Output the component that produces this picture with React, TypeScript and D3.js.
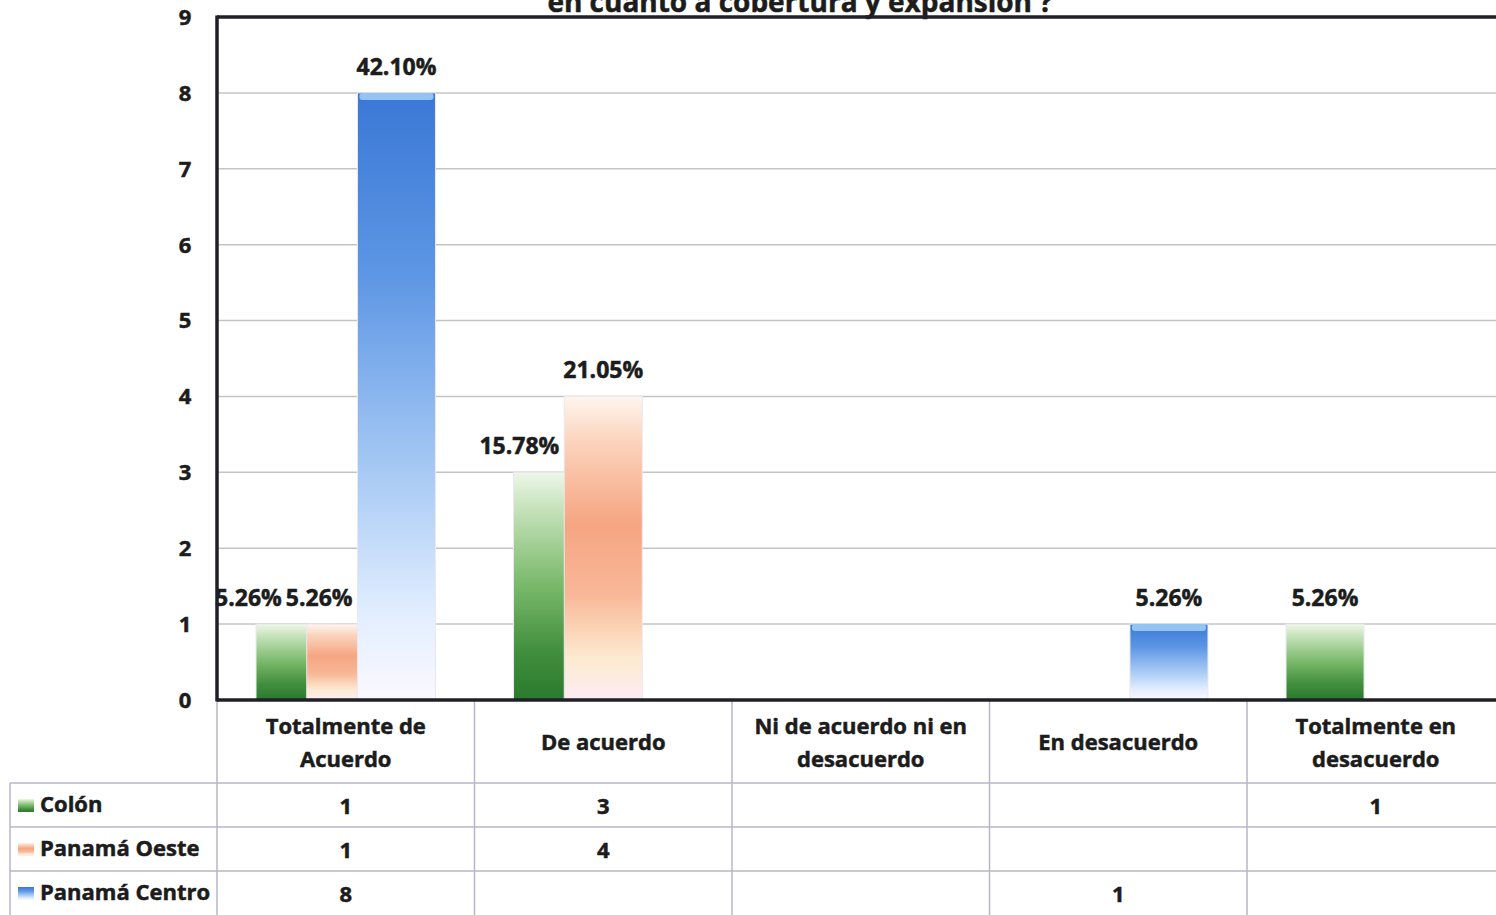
import React from "react";
import * as d3 from "d3";

const titleText = "en cuanto a cobertura y expansión ?";
const categories = [
  "Totalmente de Acuerdo",
  "De acuerdo",
  "Ni de acuerdo ni en desacuerdo",
  "En desacuerdo",
  "Totalmente en desacuerdo",
];
const categoryLines = [
  ["Totalmente de", "Acuerdo"],
  ["De acuerdo"],
  ["Ni de acuerdo ni en", "desacuerdo"],
  ["En desacuerdo"],
  ["Totalmente en", "desacuerdo"],
];
const seriesNames = ["Colón", "Panamá Oeste", "Panamá Centro"];
const colonValues: (number | null)[] = [1, 3, null, null, 1];
const oesteValues: (number | null)[] = [1, 4, null, null, null];
const centroValues: (number | null)[] = [8, null, null, 1, null];
const yTicks = [0, 1, 2, 3, 4, 5, 6, 7, 8, 9];

const seriesValues = [colonValues, oesteValues, centroValues];
const gradIds = ["gGreen", "gOrange", "gBlue"];

const W = 1496;
const H = 915;
const FONT = "'Open Sans', 'Noto Sans', sans-serif";

const plotLeft = 217;
const plotTop = 17;
const plotBottom = 700;
const catWidth = 257.5;
const plotRight = plotLeft + catWidth * categories.length;
const tableTop = 783;
const rowH = 44;
const legendLeft = 10;

const total = d3.sum(seriesValues.flat().map((v) => v ?? 0));
const pct = (v: number) => (Math.floor((v / total) * 10000) / 100).toFixed(2) + "%";

let measureCtx: CanvasRenderingContext2D | null = null;
function measure(text: string, font: string) {
  if (!measureCtx) measureCtx = document.createElement("canvas").getContext("2d");
  if (!measureCtx) return text.length * 12;
  measureCtx.font = font;
  return measureCtx.measureText(text).width;
}

export default function App() {
  const x = d3.scaleBand<string>().domain(categories).range([plotLeft, plotRight]).padding(0);
  const y = d3.scaleLinear().domain([0, 9]).range([plotBottom, plotTop]);
  const bw = x.bandwidth();
  const barW = bw * 0.303;
  const step = barW * 0.65;
  const groupW = step * (seriesNames.length - 1) + barW;
  const pad = (bw - groupW) / 2;
  const barX = (ci: number, si: number) => (x(categories[ci]) as number) + pad + si * step;

  const labelSize = 23;
  const labelFont = `bold ${labelSize}px ${FONT}`;
  const labels: { key: string; text: string; cx: number; y: number }[] = [];
  categories.forEach((_, ci) => {
    const items: { key: string; text: string; cx: number; y: number; w: number }[] = [];
    seriesValues.forEach((vals, si) => {
      const v = vals[ci];
      if (v == null) return;
      const x0 = barX(ci, si);
      let x1 = x0 + barW;
      for (let sj = si + 1; sj < seriesValues.length; sj++) {
        if (seriesValues[sj][ci] != null) {
          x1 = Math.min(x1, barX(ci, sj));
          break;
        }
      }
      const text = pct(v);
      items.push({ key: `${ci}-${si}`, text, cx: (x0 + x1) / 2, y: y(v) - 18, w: measure(text, labelFont) });
    });
    for (let k = items.length - 2; k >= 0; k--) {
      const a = items[k];
      const b = items[k + 1];
      const maxCx = b.cx - b.w / 2 - 4 - a.w / 2;
      if (a.cx > maxCx) a.cx = maxCx;
    }
    labels.push(...items);
  });

  const tableLine = "#b6b6c8";
  const axisColor = "#1f1f27";
  const textColor = "#1c1c1c";
  const heavy = { stroke: textColor, strokeWidth: 0.5 };

  return (
    <svg
      width={W}
      height={H}
      viewBox={`0 0 ${W} ${H}`}
      style={{ position: "absolute", left: 0, top: 0, background: "#fff", fontFamily: FONT }}
    >
      <defs>
        <linearGradient id="gGreen" x1="0" y1="0" x2="0" y2="1">
          <stop offset="0" stopColor="#eef7ea" />
          <stop offset="0.12" stopColor="#cfe7c5" />
          <stop offset="0.5" stopColor="#78b869" />
          <stop offset="0.8" stopColor="#3f8d3c" />
          <stop offset="1" stopColor="#2b7a2d" />
        </linearGradient>
        <linearGradient id="gOrange" x1="0" y1="0" x2="0" y2="1">
          <stop offset="0" stopColor="#fff5ef" />
          <stop offset="0.15" stopColor="#fbd3bc" />
          <stop offset="0.42" stopColor="#f6a582" />
          <stop offset="0.65" stopColor="#f8b797" />
          <stop offset="0.86" stopColor="#fdeacf" />
          <stop offset="1" stopColor="#fcecf4" />
        </linearGradient>
        <linearGradient id="gBlue" x1="0" y1="0" x2="0" y2="1">
          <stop offset="0" stopColor="#3a78d6" />
          <stop offset="0.3" stopColor="#5d96e4" />
          <stop offset="0.62" stopColor="#a6c9f4" />
          <stop offset="0.86" stopColor="#e2eeff" />
          <stop offset="1" stopColor="#fbf8ff" />
        </linearGradient>
      </defs>

      {/* title (clipped at top, as in the source) */}
      <text x={800} y={12} textAnchor="middle" fontSize={28} fontWeight="bold" fill={textColor} {...heavy}>
        {titleText}
      </text>

      {/* gridlines */}
      {yTicks
        .filter((t) => t > 0 && t < 9)
        .map((t) => (
          <line key={t} x1={plotLeft} x2={plotRight} y1={y(t)} y2={y(t)} stroke="#c4c4c4" strokeWidth={1.5} />
        ))}

      {/* bars */}
      {seriesValues.map((vals, si) =>
        vals.map((v, ci) =>
          v == null ? null : (
            <g key={`b${si}-${ci}`}>
              <rect
                x={barX(ci, si)}
                y={y(v)}
                width={barW}
                height={y(0) - y(v)}
                fill={`url(#${gradIds[si]})`}
                stroke="#ece6f2"
                strokeWidth={1}
              />
              {si === 2 && (
                <rect x={barX(ci, si) + 2} y={y(v)} width={barW - 4} height={7} rx={3} fill="#93c4f3" />
              )}
            </g>
          )
        )
      )}

      {/* data labels */}
      {labels.map((l) => (
        <text key={l.key} x={l.cx} y={l.y} textAnchor="middle" fontSize={labelSize} fontWeight="bold" fill={textColor} {...heavy}>
          {l.text}
        </text>
      ))}

      {/* y tick labels */}
      {yTicks.map((t) => (
        <text key={t} x={185} y={y(t)} dy="0.36em" textAnchor="middle" fontSize={22} fontWeight="bold" fill={textColor} {...heavy}>
          {t}
        </text>
      ))}

      {/* data table lines */}
      {[tableTop, tableTop + rowH, tableTop + 2 * rowH].map((yy) => (
        <line key={yy} x1={legendLeft} x2={W} y1={yy} y2={yy} stroke={tableLine} strokeWidth={1.5} />
      ))}
      <line x1={legendLeft} x2={legendLeft} y1={tableTop} y2={H} stroke={tableLine} strokeWidth={1.5} />
      {categories.map((c) => (
        <line
          key={c}
          x1={x(c) as number}
          x2={x(c) as number}
          y1={plotBottom}
          y2={H}
          stroke={tableLine}
          strokeWidth={1.5}
        />
      ))}

      {/* plot border / axes */}
      <line x1={plotLeft} x2={plotRight} y1={plotTop} y2={plotTop} stroke={axisColor} strokeWidth={3.5} />
      <line x1={plotLeft} x2={plotLeft} y1={plotTop - 1.5} y2={plotBottom + 1.5} stroke={axisColor} strokeWidth={3.5} />
      <line x1={plotLeft} x2={plotRight} y1={plotBottom} y2={plotBottom} stroke={axisColor} strokeWidth={3.5} />

      {/* category labels */}
      {categoryLines.map((lines, ci) => {
        const cx = (x(categories[ci]) as number) + bw / 2;
        const cy = (plotBottom + tableTop) / 2 + 1;
        const lh = 33;
        return (
          <text key={ci} textAnchor="middle" fontSize={22} fontWeight="bold" fill={textColor} {...heavy}>
            {lines.map((ln, li) => (
              <tspan key={li} x={cx} y={cy + (li - (lines.length - 1) / 2) * lh} dy="0.36em">
                {ln}
              </tspan>
            ))}
          </text>
        );
      })}

      {/* legend rows */}
      {seriesNames.map((name, si) => {
        const cy = tableTop + si * rowH + rowH / 2;
        return (
          <g key={name}>
            <rect x={18} y={cy - 6} width={16} height={13} fill={`url(#${gradIds[si]})`} />
            <text x={40} y={cy - 1} dy="0.36em" fontSize={22} fontWeight="bold" fill={textColor} {...heavy}>
              {name}
            </text>
            {seriesValues[si].map((v, ci) =>
              v == null ? null : (
                <text
                  key={ci}
                  x={(x(categories[ci]) as number) + bw / 2}
                  y={cy + 1}
                  dy="0.36em"
                  textAnchor="middle"
                  fontSize={22}
                  fontWeight="bold"
                  fill={textColor}
                  {...heavy}
                >
                  {v}
                </text>
              )
            )}
          </g>
        );
      })}
    </svg>
  );
}
